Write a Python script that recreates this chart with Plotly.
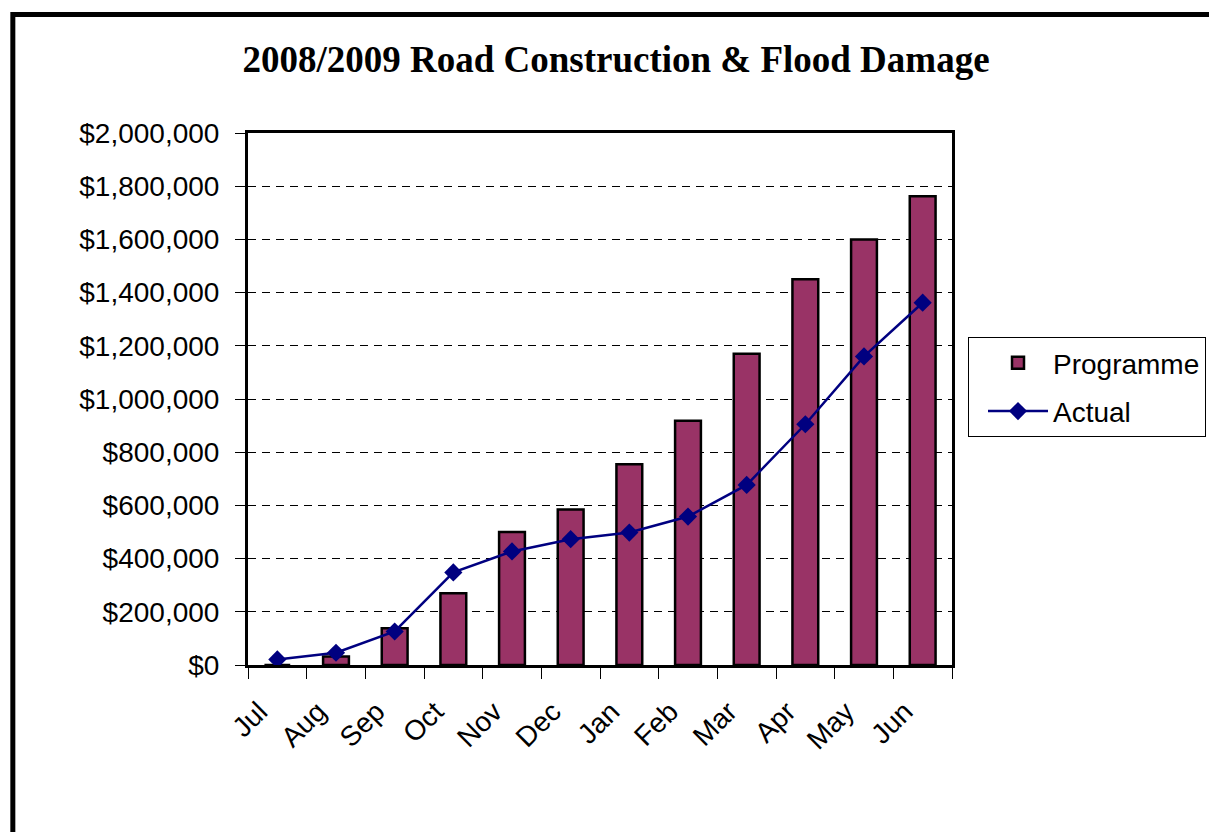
import plotly.graph_objects as go

months = ["Jul", "Aug", "Sep", "Oct", "Nov", "Dec", "Jan", "Feb", "Mar", "Apr", "May", "Jun"]
programme = [0, 32000, 138000, 270000, 500000, 585000, 755000, 918000, 1170000, 1450000, 1600000, 1762000]
actual = [21000, 46000, 126000, 348000, 427000, 473000, 498000, 558000, 677000, 905000, 1160000, 1362000]

# the page body has an 8px margin; lay out in window pixels and shift
OFF = 8
W, H = 1217 - OFF, 832 - OFF
L, R, T, B = 248 - OFF, 953 - OFF, 133 - OFF, 665 - OFF

def px_x(p):
    return (p - OFF - L) / (R - L)

def px_y(p):
    return (B - (p - OFF)) / (B - T)

fig = go.Figure()
fig.add_trace(go.Bar(
    x=months, y=programme, name="Programme", width=0.44,
    marker=dict(color="#993366", line=dict(color="black", width=2.5)),
    legendgroup="p",
))
fig.add_trace(go.Scatter(
    x=months, y=actual, name="Actual", mode="lines+markers",
    line=dict(color="#000080", width=2.5),
    marker=dict(symbol="diamond", size=14, color="#000080"),
    legendgroup="a",
))

fig.update_layout(
    width=W, height=H,
    margin=dict(l=L, r=W - R, t=T, b=H - B),
    paper_bgcolor="white", plot_bgcolor="white",
    font=dict(family="Liberation Sans, Arial, sans-serif", size=28, color="black"),
    title=dict(
        text="<b>2008/2009 Road Construction &amp; Flood Damage</b>",
        font=dict(family="Liberation Serif, Times New Roman, serif", size=37, color="black"),
        x=(616 - OFF) / W, xref="container", xanchor="center",
        y=1 - (59 - OFF) / H, yref="container", yanchor="middle",
    ),
    showlegend=True,
    legend=dict(
        x=px_x(968), y=px_y(337), xanchor="left", yanchor="top",
        bordercolor="black", borderwidth=1, bgcolor="white",
        font=dict(size=28), itemwidth=60, indentation=14,
        entrywidth=300, entrywidthmode="pixels",
        traceorder="grouped", tracegroupgap=9,
    ),
)

fig.update_xaxes(
    type="category", range=[-0.5, 11.5],
    showline=True, linewidth=3, linecolor="black", mirror=True,
    ticks="outside", ticklen=11, tickwidth=1, tickcolor="black", tickson="boundaries",
    tickangle=-45, showgrid=False, ticklabelstandoff=16, ticklabelshift=-18,
    tickfont=dict(size=28),
)
fig.update_yaxes(
    range=[0, 2000000], dtick=200000, tickprefix="$", tickformat=",.0f",
    showline=True, linewidth=3, linecolor="black", mirror=True,
    ticks="outside", ticklen=10, tickwidth=1, tickcolor="black",
    showgrid=True, gridcolor="black", gridwidth=1, griddash="8px,6px",
    zeroline=False, tickfont=dict(size=28), ticklabelstandoff=10,
)

# outer chart-area frame
fig.add_shape(
    type="rect", xref="paper", yref="paper",
    x0=px_x(12.5), x1=px_x(1240), y0=px_y(860), y1=px_y(14.5),
    line=dict(color="black", width=5), fillcolor="rgba(0,0,0,0)", layer="above",
)

fig.write_html("out.html")
